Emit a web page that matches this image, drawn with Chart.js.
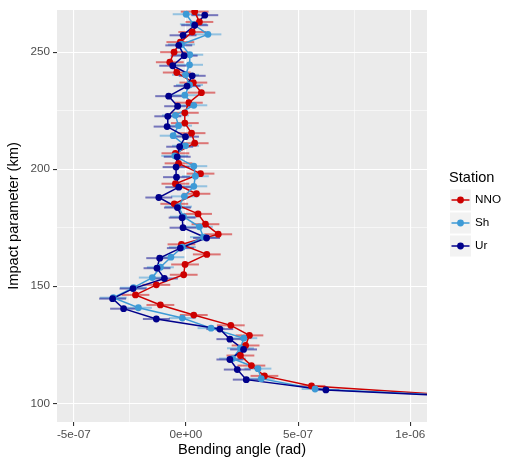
<!DOCTYPE html>
<html>
<head>
<meta charset="utf-8">
<script src="https://cdn.jsdelivr.net/npm/chart.js@4"></script>
<style>
  html, body { margin: 0; padding: 0; background: #fff; }
</style>
</head>
<body>
<canvas id="chart" width="515" height="466"></canvas>
<script>
// ===== DATA (bending angle in units of 1e-7 rad, impact parameter in km) =====
const stations = ["NNO", "Sh", "Ur"];
const stationColors = ["#CD0000", "#3D9AD6", "#00008B"];

const nnoKm = [103.1, 107.4, 111.7, 116.1, 120.4, 124.7, 129.0, 133.3, 137.7, 142.0, 146.3, 150.6, 154.9,
  159.3, 163.6, 167.9, 172.2, 176.5, 180.9, 185.2, 189.5, 193.8, 198.1, 202.5, 206.8, 211.1, 215.4,
  219.7, 224.1, 228.4, 232.7, 237.0, 241.3, 245.7, 250.0, 254.3, 258.6, 262.9, 267.3];
const nnoAngle = [12.5, 5.60, 3.50, 2.92, 2.43, 2.66, 2.83, 2.00, 0.35, -1.14, -2.25, -1.32, -0.10,
  -0.04, 0.93, -0.20, 1.44, 0.87, 0.54, -0.52, 0.47, -0.47, 0.65, -0.33, -0.47, 0.39, 0.25,
  -0.05, -0.05, 0.13, 0.69, 0.33, -0.41, -0.72, -0.53, -0.25, 0.28, 0.60, 0.39];

const shKm = [101.8, 106.1, 110.5, 114.8, 119.1, 123.5, 127.8, 132.1, 136.4, 140.8, 145.1, 149.4, 153.7,
  158.1, 162.4, 166.7, 171.0, 175.4, 179.7, 184.0, 188.4, 192.7, 197.0, 201.3, 205.7, 210.0, 214.3,
  218.6, 223.0, 227.3, 231.6, 236.0, 240.3, 244.6, 248.9, 253.3, 257.6, 261.9, 266.2];
const shAngle = [15.1, 5.76, 3.36, 3.21, 2.08, 2.43, 2.58, 1.12, -0.16, -2.12, -3.24, -2.34, -1.50,
  -1.14, -0.67, -0.16, 0.78, 0.60, -0.11, -0.33, -0.07, 0.35, 0.42, 0.35, -0.50, -0.02, -0.57,
  -0.33, -0.47, 0.35, -0.05, 0.16, -0.02, 0.16, 0.17, -0.20, 0.98, 0.33, 0.01];

const urKm = [101.4, 105.7, 110.1, 114.4, 118.7, 123.0, 127.4, 131.7, 136.0, 140.4, 144.7, 149.0, 153.3,
  157.7, 162.0, 166.3, 170.6, 175.0, 179.3, 183.6, 187.9, 192.3, 196.6, 200.9, 205.3, 209.6, 213.9,
  218.2, 222.6, 226.9, 231.2, 235.5, 239.9, 244.2, 248.5, 252.9, 257.2, 261.5, 265.8];
const urAngle = [15.6, 6.24, 2.69, 2.29, 1.96, 2.57, 1.96, 1.51, -1.32, -2.78, -3.27, -2.36, -0.96,
  -1.29, -1.17, -0.25, 0.92, -0.13, -0.17, -0.38, -1.21, -0.32, -0.42, -0.44, -0.39, -0.28, -0.02,
  -0.84, -0.81, -0.37, -0.77, 0.05, 0.28, -0.59, -0.08, -0.32, -0.13, 0.39, 0.84];

// half-width of the horizontal error bars (1e-7 rad)
const stationErr = [0.62, 0.6, 0.6];

const xTickValues = [-5, 0, 5, 10];
const xTickLabels = ["-5e-07", "0e+00", "5e-07", "1e-06"];
const xMinorValues = [-2.5, 2.5, 7.5];
const yTickValues = [100, 150, 200, 250];
const yTickLabels = ["100", "150", "200", "250"];
const yMinorValues = [125, 175, 225];

// ===== HELPERS =====
const seriesKm = [nnoKm, shKm, urKm];
const seriesAngle = [nnoAngle, shAngle, urAngle];
const FONT = '"Liberation Sans", Arial, sans-serif';

function toPoints(i) {
  return seriesKm[i].map((km, j) => ({ x: seriesAngle[i][j], y: km }));
}

function alpha(hex, a) {
  const n = parseInt(hex.slice(1), 16);
  return `rgba(${(n >> 16) & 255},${(n >> 8) & 255},${n & 255},${a})`;
}

const isMajorX = v => xTickValues.includes(v);
const isMajorY = v => yTickValues.includes(v);

// lines first (drawn below), points on top; Ur drawn above Sh above NNO
const datasets = [];
stations.forEach((name, i) => {
  datasets.push({
    label: name + " line",
    data: toPoints(i),
    showLine: true,
    borderColor: stationColors[i],
    borderWidth: 1.5,
    pointRadius: 0,
    order: 10 - i
  });
});
stations.forEach((name, i) => {
  datasets.push({
    label: name,
    data: toPoints(i),
    showLine: false,
    backgroundColor: stationColors[i],
    borderWidth: 0,
    pointRadius: 3.4,
    order: 5 - i
  });
});

// ===== PLUGIN: panel background, error bars, legend =====
const ggPlugin = {
  id: "ggStyle",
  beforeDraw(chart) {
    const { ctx, chartArea: a } = chart;
    ctx.save();
    ctx.fillStyle = "#EBEBEB";
    ctx.fillRect(a.left, a.top, a.right - a.left, a.bottom - a.top);
    ctx.restore();
  },
  beforeDatasetsDraw(chart) {
    const { ctx, chartArea: a, scales: { x, y } } = chart;
    ctx.save();
    ctx.beginPath();
    ctx.rect(a.left, a.top, a.right - a.left, a.bottom - a.top);
    ctx.clip();
    ctx.lineWidth = 2;
    stations.forEach((name, i) => {
      ctx.strokeStyle = alpha(stationColors[i], 0.5);
      seriesKm[i].forEach((km, j) => {
        const py = y.getPixelForValue(km);
        const v = seriesAngle[i][j];
        ctx.beginPath();
        ctx.moveTo(x.getPixelForValue(v - stationErr[i]), py);
        ctx.lineTo(x.getPixelForValue(v + stationErr[i]), py);
        ctx.stroke();
      });
    });
    ctx.restore();
  },
  afterDraw(chart) {
    const { ctx } = chart;
    ctx.save();
    ctx.textBaseline = "middle";
    ctx.textAlign = "left";
    ctx.fillStyle = "#000";
    ctx.font = "14.6px " + FONT;
    ctx.fillText("Station", 449, 178);
    stations.forEach((name, i) => {
      const cy = 200 + 23 * i;
      ctx.fillStyle = "#F2F2F2";
      ctx.fillRect(450, cy - 10.5, 21, 21);
      ctx.strokeStyle = stationColors[i];
      ctx.lineWidth = 1.5;
      ctx.beginPath();
      ctx.moveTo(451.5, cy);
      ctx.lineTo(469.5, cy);
      ctx.stroke();
      ctx.fillStyle = stationColors[i];
      ctx.beginPath();
      ctx.arc(460.5, cy, 3.4, 0, Math.PI * 2);
      ctx.fill();
      ctx.fillStyle = "#000";
      ctx.font = "11.7px " + FONT;
      ctx.fillText(name, 475, cy);
    });
    ctx.restore();
  }
};

// ===== CHART =====
new Chart(document.getElementById("chart"), {
  type: "scatter",
  data: { datasets },
  plugins: [ggPlugin],
  options: {
    responsive: false,
    devicePixelRatio: 1,
    animation: false,
    layout: { padding: { top: 7, right: 88, left: 0, bottom: 0 } },
    plugins: { legend: { display: false }, tooltip: { enabled: false } },
    scales: {
      x: {
        type: "linear",
        min: -5.75,
        max: 10.75,
        afterFit: s => { s.height = 44; },
        afterBuildTicks: s => {
          s.ticks = xTickValues.concat(xMinorValues).sort((a, b) => a - b).map(v => ({ value: v }));
        },
        border: { display: false },
        grid: {
          color: "#FFFFFF",
          lineWidth: c => (isMajorX(c.tick.value) ? 1.1 : 0.55),
          tickColor: c => (isMajorX(c.tick.value) ? "#333333" : "rgba(0,0,0,0)"),
          tickWidth: 1.1,
          tickLength: 4
        },
        ticks: {
          autoSkip: false,
          maxRotation: 0,
          padding: 2,
          color: "#4D4D4D",
          font: { family: FONT, size: 11.7 },
          callback: v => {
            const k = xTickValues.indexOf(v);
            return k >= 0 ? xTickLabels[k] : "";
          }
        },
        title: {
          display: true,
          text: "Bending angle (rad)",
          color: "#000",
          font: { family: FONT, size: 14.6 },
          padding: { top: 0, bottom: 7 }
        }
      },
      y: {
        type: "linear",
        min: 92,
        max: 268,
        afterFit: s => { s.width = 57; },
        afterBuildTicks: s => {
          s.ticks = yTickValues.concat(yMinorValues).sort((a, b) => a - b).map(v => ({ value: v }));
        },
        border: { display: false },
        grid: {
          color: "#FFFFFF",
          lineWidth: c => (isMajorY(c.tick.value) ? 1.1 : 0.55),
          tickColor: c => (isMajorY(c.tick.value) ? "#333333" : "rgba(0,0,0,0)"),
          tickWidth: 1.1,
          tickLength: 4
        },
        ticks: {
          autoSkip: false,
          padding: 3,
          color: "#4D4D4D",
          font: { family: FONT, size: 11.7 },
          callback: v => {
            const k = yTickValues.indexOf(v);
            return k >= 0 ? yTickLabels[k] : "";
          }
        },
        title: {
          display: true,
          text: "Impact parameter (km)",
          color: "#000",
          font: { family: FONT, size: 14.6 },
          padding: { top: 5, bottom: 0 }
        }
      }
    }
  }
});
</script>
</body>
</html>
